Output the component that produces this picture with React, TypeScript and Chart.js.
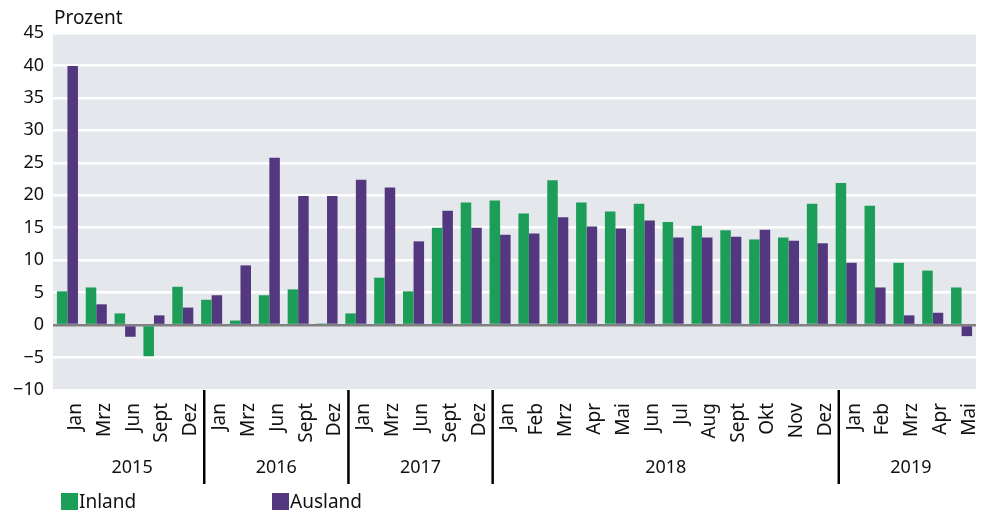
import React, { useEffect, useRef } from "react";
import { Chart, registerables } from "chart.js";

Chart.register(...registerables);

const monthLabels = [
  "Jan", "Mrz", "Jun", "Sept", "Dez",
  "Jan", "Mrz", "Jun", "Sept", "Dez",
  "Jan", "Mrz", "Jun", "Sept", "Dez",
  "Jan", "Feb", "Mrz", "Apr", "Mai", "Jun", "Jul", "Aug", "Sept", "Okt", "Nov", "Dez",
  "Jan", "Feb", "Mrz", "Apr", "Mai",
];
const yearLabels = ["2015", "2016", "2017", "2018", "2019"];
const yearCounts = [5, 5, 5, 12, 5];

const inland = [
  5.2, 5.8, 1.8, -4.8, 5.9,
  3.9, 0.7, 4.6, 5.5, 0.25,
  1.8, 7.3, 5.2, 15.0, 18.9,
  19.2, 17.2, 22.3, 18.9, 17.5, 18.7, 15.9, 15.3, 14.6, 13.2, 13.5, 18.7,
  21.9, 18.4, 9.6, 8.4, 5.8,
];
const ausland = [
  39.9, 3.2, -1.8, 1.5, 2.7,
  4.6, 9.2, 25.8, 19.9, 19.9,
  22.4, 21.2, 12.9, 17.6, 15.0,
  13.9, 14.1, 16.6, 15.2, 14.9, 16.1, 13.5, 13.5, 13.6, 14.7, 13.0, 12.6,
  9.6, 5.8, 1.5, 1.9, -1.7,
];
const seriesNames = ["Inland", "Ausland"];
const seriesColors = ["#1c9e59", "#54387f"];
const yMin = -10;
const yMax = 45;
const yStep = 5;
const yTitle = "Prozent";

const FONT = "'Noto Sans', sans-serif";

const decorPlugin = {
  id: "decor",
  beforeDraw(chart: any) {
    const { ctx, chartArea } = chart;
    ctx.save();
    ctx.fillStyle = "#e4e8ec";
    ctx.fillRect(chartArea.left, chartArea.top, chartArea.right - chartArea.left, chartArea.bottom - chartArea.top);
    ctx.restore();
  },
  afterDraw(chart: any) {
    const { ctx, chartArea } = chart;
    const xs = chart.scales.x;
    ctx.save();
    ctx.fillStyle = "#111";
    ctx.font = `19px ${FONT}`;
    ctx.textAlign = "left";
    ctx.textBaseline = "alphabetic";
    ctx.fillText(yTitle, chartArea.left + 1, 24);
    const off = 7;
    let start = 0;
    ctx.strokeStyle = "#000";
    ctx.lineWidth = 2.5;
    yearCounts.forEach((n, gi) => {
      const end = start + n - 1;
      const center = (xs.getPixelForValue(start) + xs.getPixelForValue(end)) / 2 + off;
      ctx.font = `18px ${FONT}`;
      ctx.textAlign = "center";
      ctx.fillStyle = "#111";
      ctx.fillText(yearLabels[gi], center, 473);
      if (gi < yearCounts.length - 1) {
        const bx = (xs.getPixelForValue(end) + xs.getPixelForValue(end + 1)) / 2 + off;
        ctx.beginPath();
        ctx.moveTo(bx, chartArea.bottom);
        ctx.lineTo(bx, chartArea.bottom + 94);
        ctx.stroke();
      }
      start += n;
    });
    ctx.restore();
  },
};

export default function App() {
  const ref = useRef<HTMLCanvasElement>(null);
  useEffect(() => {
    if (!ref.current) return;
    const chart = new Chart(ref.current, {
      type: "bar",
      data: {
        labels: monthLabels,
        datasets: [
          { label: seriesNames[0], data: inland, backgroundColor: seriesColors[0] },
          { label: seriesNames[1], data: ausland, backgroundColor: seriesColors[1] },
        ],
      },
      options: {
        responsive: false,
        animation: false,
        datasets: { bar: { categoryPercentage: 0.73, barPercentage: 1 } },
        layout: { padding: { top: 33, right: 11, bottom: 0, left: 0 } },
        plugins: { legend: { display: false }, tooltip: { enabled: false } },
        scales: {
          x: {
            grid: { display: false, drawTicks: false },
            border: { display: false },
            ticks: {
              font: { family: FONT, size: 19 },
              color: "#111",
              minRotation: 90,
              maxRotation: 90,
              padding: 13,
              labelOffset: 8,
              autoSkip: false,
            },
            afterFit(scale: any) {
              scale.height = 120;
              scale.paddingLeft = 0;
              scale.paddingRight = 0;
            },
          },
          y: {
            min: yMin,
            max: yMax,
            grid: {
              drawTicks: false,
              lineWidth: 2.5,
              color: (c: any) => (c.tick && c.tick.value === 0 ? "#808080" : "#ffffff"),
            },
            border: { display: false },
            ticks: {
              stepSize: yStep,
              font: { family: FONT, size: 18 },
              color: "#111",
              padding: 9,
              callback: (v: any) => String(v).replace("-", "\u2212"),
            },
            afterFit(scale: any) {
              scale.width = 53;
              scale.paddingTop = 0;
              scale.paddingBottom = 0;
            },
          },
        },
      },
      plugins: [decorPlugin],
    });
    return () => chart.destroy();
  }, []);

  const legendItem = (i: number, left: number) => (
    <div key={i} style={{ position: "absolute", left, top: 490, display: "flex", alignItems: "center", fontFamily: FONT, fontSize: 19, color: "#111", lineHeight: "22px" }}>
      <span style={{ display: "inline-block", width: 17, height: 17, background: seriesColors[i], marginRight: 1 }} />
      <span>{seriesNames[i]}</span>
    </div>
  );

  return (
    <div style={{ position: "absolute", left: 0, top: 0, width: 987, height: 510, background: "#fff", overflow: "hidden" }}>
      <canvas ref={ref} width={987} height={510} style={{ display: "block" }} />
      {legendItem(0, 61)}
      {legendItem(1, 272)}
    </div>
  );
}
